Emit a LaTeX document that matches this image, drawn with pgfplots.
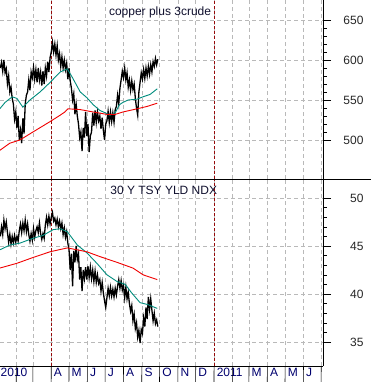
\documentclass[border=0pt]{standalone}
\usepackage{pgfplots}
\pgfplotsset{compat=1.18}
\usepackage{pgfplotstable}
\usepackage{fontspec}
\setmainfont{Liberation Sans}
\definecolor{maG}{RGB}{0,140,125}
\definecolor{maR}{RGB}{240,0,0}
\definecolor{vred}{RGB}{150,10,10}
\definecolor{gridc}{RGB}{185,185,185}
\definecolor{navy}{RGB}{0,0,110}
\definecolor{ttl}{RGB}{15,15,45}

\pgfplotstableread{
day v
4 590
6 597
8 586
10 600
12 584
14 589
16 570
18 580
20 560
22 566
24 552
26 545
28 526
30 535
32 515
34 530
36 500
38 512
40 496
42 527
44 508
46 545
48 556
50 560
52 575
54 562
56 585
58 578
60 591
62 576
64 588
66 572
68 590
70 575
72 585
74 568
76 586
78 570
80 590
82 580
84 598
86 585
88 603
90 610
92 622
94 610
96 620
98 606
100 618
102 600
104 608
106 592
108 604
110 590
112 600
114 588
116 596
118 576
120 590
122 574
124 565
126 550
128 558
130 532
132 545
134 530
136 520
138 503
140 510
142 486
144 515
146 503
148 535
150 505
152 520
154 485
156 505
158 510
160 534
162 518
164 537
166 522
168 535
170 524
172 530
174 514
176 528
178 512
180 500
182 520
184 524
186 536
188 522
190 535
192 523
194 534
196 522
198 538
200 542
202 556
204 545
206 565
208 575
210 586
212 578
214 590
216 575
218 584
220 566
222 575
224 562
226 574
228 563
230 570
232 552
234 540
236 531
238 560
240 572
242 584
244 576
246 588
248 577
250 590
252 580
254 592
256 582
258 594
260 585
262 598
264 592
266 602
268 594
270 601
}\copper

\pgfplotstableread{
day v
3 539
12 547
24 554
32 552
42 541
54 550
71 560
88 572
105 585
117 589
125 579
139 560
150 553
161 544
172 537
181 534
189 531
198 534
205 544
211 547
220 550
235 551
245 554
257 557
269 564
}\copperG

\pgfplotstableread{
day v
3 487
20 496
37 500
59 510
88 523
105 531
113 535
118 539
139 538
161 535
184 532
198 532
211 535
235 539
252 542
269 546
}\copperR

\pgfplotstableread{
day v
4 46.0
6 47.0
8 46.2
10 47.7
12 46.8
14 47.5
16 46.4
18 45.4
20 46.2
22 45.2
24 46.0
26 45.3
28 46.1
30 45.4
32 46.0
34 45.5
36 46.6
38 47.3
40 46.4
42 47.4
44 46.6
46 47.7
48 46.5
50 47.3
52 46.2
54 45.5
56 46.3
58 45.6
60 46.8
62 45.9
64 46.6
66 47.0
68 46.4
70 47.4
72 46.3
74 45.7
76 46.3
78 45.8
80 47.2
82 48.0
84 47.2
86 48.1
88 47.3
90 48.0
92 48.5
94 47.6
96 47.9
98 47.2
100 47.8
102 47.0
104 47.6
106 46.8
108 47.4
110 46.2
112 46.9
114 45.9
116 46.5
118 45.3
120 44.6
122 42.5
124 44.2
126 40.8
128 44.5
130 43.3
132 45.0
134 43.6
136 44.2
138 41.5
140 42.8
142 40.3
144 42.5
146 41.6
148 42.8
150 41.5
152 42.9
154 41.7
156 42.8
158 41.6
160 42.5
162 41.3
164 42.4
166 41.2
168 42.0
170 41.1
172 41.5
174 40.3
176 41.2
178 40.1
180 39.3
182 38.6
184 39.6
186 40.6
188 39.8
190 40.7
192 39.8
194 40.5
196 39.7
198 40.6
200 39.9
202 40.8
204 41.5
206 40.6
208 41.4
210 40.4
212 40.9
214 39.6
216 40.7
218 39.5
220 40.2
222 39.0
224 38.2
226 38.8
228 37.2
230 37.9
232 36.4
234 37.0
236 35.5
238 36.2
240 34.9
242 36.3
244 35.9
246 37.5
248 36.6
250 38.6
252 37.4
254 39.7
256 38.4
258 39.5
260 38.3
262 37.2
264 38.0
266 36.9
268 37.3
270 36.6
}\tsy

\pgfplotstableread{
day v
3 44.6
20 45.1
37 45.3
59 45.8
76 46.1
93 46.7
105 46.8
117 46.5
134 45.1
150 44.3
167 43.2
184 42.0
201 41.3
215 41.0
226 40.1
240 39.1
253 38.9
269 38.5
}\tsyG

\pgfplotstableread{
day v
3 42.7
32 43.2
59 43.8
88 44.4
117 44.8
134 44.6
150 44.4
172 43.9
201 43.3
228 42.7
245 42.0
269 41.5
}\tsyR

\pgfplotsset{panel/.style={
  scale only axis, width=323pt,
  xmin=3.4, xmax=549,
  axis x line*=bottom, axis y line*=right,
  axis line style={-, line width=0.8pt},
  xtick={31,59,90,120,151,181,212,243,273,304,334,365,396,424,455,485,516,546},
  grid=major,
  major grid style={gridc, dash pattern=on 4pt off 3pt, line width=0.5pt},
  xtick align=inside, ytick align=outside,
  major tick length=8pt, minor tick length=3.5pt,
  minor y tick num=4,
  x tick style={draw=none},
  y tick style={black, line width=0.6pt},
  tick label style={font=\fontsize{12}{14}\selectfont},
  /pgf/number format/assume math mode=true,
  yticklabel style={anchor=east, xshift=36pt, text=black!85},
  clip mode=individual,
}}

\begin{document}
\begin{tikzpicture}
\useasboundingbox (0,0) rectangle (371pt,382pt);
% top panel
\begin{axis}[panel, at={(0pt,203pt)}, anchor=south west, height=179pt,
  ymin=451.25, ymax=675, ytick={500,550,600,650}, xticklabels={}]
\addplot[vred, dash pattern=on 3pt off 2pt, line width=0.9pt] coordinates {(90,451.25) (90,675)};
\addplot[vred, dash pattern=on 3pt off 2pt, line width=0.9pt] coordinates {(365,451.25) (365,675)};
\addplot[black, line width=1.3pt] table[x=day,y=v] {\copper};
\addplot[maG, line width=0.9pt] table[x=day,y=v] {\copperG};
\addplot[maR, line width=0.9pt] table[x=day,y=v] {\copperR};
\node[anchor=west, text=ttl, font=\fontsize{12}{14}\selectfont, inner sep=0pt] at (rel axis cs:0.337,0.933) {copper plus 3crude};
\end{axis}
% bottom panel
\begin{axis}[panel, at={(0pt,16pt)}, anchor=south west, height=187pt,
  ymin=32.5, ymax=51.98, ytick={35,40,45,50},
  xticklabels={,,A,M,J,J,A,S,O,N,D,2011,,M,A,M,J,},
  xticklabel style={anchor=north west, xshift=1.5pt, yshift=-1pt, inner sep=1pt, text=navy}]
\addplot[vred, dash pattern=on 3pt off 2pt, line width=0.9pt] coordinates {(90,32.5) (90,51.98)};
\addplot[vred, dash pattern=on 3pt off 2pt, line width=0.9pt] coordinates {(365,32.5) (365,51.98)};
\addplot[black, line width=1.3pt] table[x=day,y=v] {\tsy};
\addplot[maG, line width=0.9pt] table[x=day,y=v] {\tsyG};
\addplot[maR, line width=0.9pt] table[x=day,y=v] {\tsyR};
\node[anchor=west, text=ttl, font=\fontsize{12}{14}\selectfont, inner sep=0pt] at (rel axis cs:0.341,0.941) {30 Y TSY YLD NDX};
\node[anchor=north west, text=navy, font=\fontsize{12}{14}\selectfont, inner sep=1pt, xshift=1.5pt, yshift=-1pt] at (axis cs:0,32.5) {2010};
\pgfplotsinvokeforeach{31,59,90,120,151,181,212,243,273,304,334,365,396,424,455,485,516,546}{
  \draw[black, line width=0.6pt] (axis cs:#1,32.5) -- ++(0,-16pt);
}
\end{axis}
\draw[black, line width=0.8pt] (0pt,203pt) -- (371pt,203pt);
\end{tikzpicture}
\end{document}
